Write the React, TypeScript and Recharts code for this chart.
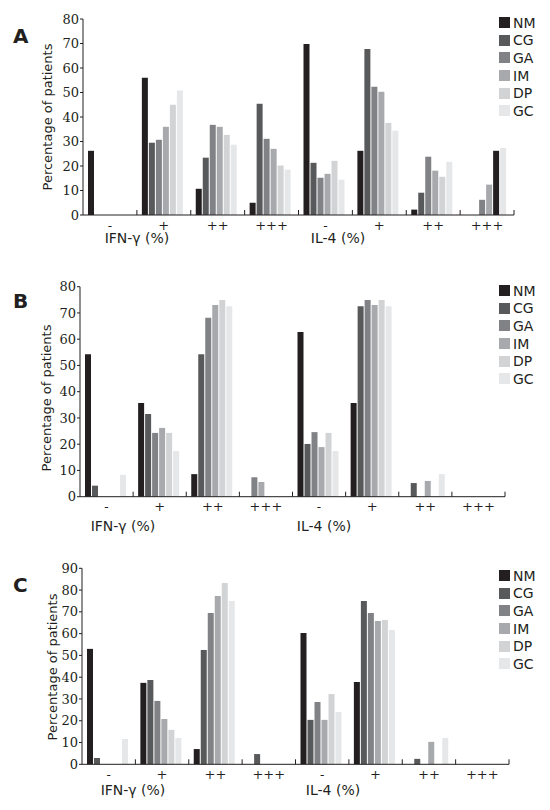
import { BarChart, Bar, XAxis, YAxis, Legend, Cell } from "recharts"

// x-axis categories (IFN-γ groups, then IL-4 groups)
const categories = ["-", "+", "++", "+++", "-", "+", "++", "+++"]
const groupTitles = ["IFN-γ (%)", "IL-4 (%)"]
const seriesNames = ["NM", "CG", "GA", "IM", "DP", "GC"]
const ticksAB = [0, 10, 20, 30, 40, 50, 60, 70, 80]
const ticksC = [0, 10, 20, 30, 40, 50, 60, 70, 80, 90]

// Panel A
const aNM = [26.2, 56, 10.7, 5, 69.8, 26.2, 2.2, 0]
const aCG = [0, 29.5, 23.4, 45.4, 21.3, 67.8, 9.1, 0]
const aGA = [0, 30.7, 36.8, 31.1, 15.2, 52.3, 23.8, 6.2]
const aIM = [0, 36, 36, 27, 16.8, 50.3, 18.1, 12.4]
const aDP = [0, 45, 32.7, 20.2, 22.1, 37.6, 15.6, 26.2]
const aGC = [0, 50.8, 28.7, 18.5, 14.4, 34.4, 21.7, 27.4]

// Panel B
const bNM = [54.3, 35.7, 8.6, 0, 62.7, 35.7, 0, 0]
const bCG = [4.2, 31.5, 54.3, 7.4, 20.1, 72.6, 5.2, 0]
const bGA = [0, 24.3, 68.2, 5.6, 24.6, 74.9, 0, 0]
const bIM = [0, 26.2, 73, 0, 18.9, 73, 6.0, 0]
const bDP = [0, 24.3, 74.9, 0, 24.3, 74.9, 0, 0]
const bGC = [8.3, 17.4, 72.6, 0, 17.4, 72.6, 8.6, 0]

// Panel C
const cNM = [53, 37.4, 7.0, 0, 60.3, 37.8, 0, 0]
const cCG = [2.9, 38.7, 52.5, 4.7, 20.4, 75.0, 2.5, 0]
const cGA = [0, 29.1, 69.5, 0, 28.6, 69.5, 0, 0]
const cIM = [0, 20.8, 77.3, 0, 20.4, 65.8, 10.3, 0]
const cDP = [0, 15.8, 83.3, 0, 32.3, 66.3, 0, 0]
const cGC = [11.6, 12.1, 75.0, 0, 24.0, 61.7, 12.1, 0]

const colors: Record<string, string> = {
  NM: "#231f20",
  CG: "#58595b",
  GA: "#808285",
  IM: "#a7a9ac",
  DP: "#d1d3d4",
  GC: "#e6e7e8",
}

// a few bars in the original are drawn in another series' shade
const fillOverrides = [
  { panel: "A", series: "DP", index: 7, color: colors.NM },
  { panel: "B", series: "CG", index: 3, color: colors.GA },
  { panel: "B", series: "GA", index: 3, color: colors.IM },
]

const buildRows = (cols: number[][]) =>
  categories.map((_, i) => {
    const row: Record<string, any> = { id: `c${i}` }
    seriesNames.forEach((s, k) => (row[s] = cols[k][i]))
    return row
  })

const W = 550
const H = 270
const INK = "#231f20"

const panels = [
  {
    key: "A", top: 0, rows: buildRows([aNM, aCG, aGA, aIM, aDP, aGC]), ticks: ticksAB, max: 80,
    plotLeft: 83, plotRight: 514, plotTop: 19, plotBottom: 215,
    letterY: 43, yLabel: [47, 117], titleX: [137, 338], titleY: 243, legendTop: 14,
  },
  {
    key: "B", top: 260, rows: buildRows([bNM, bCG, bGA, bIM, bDP, bGC]), ticks: ticksAB, max: 80,
    plotLeft: 80, plotRight: 505, plotTop: 26.7, plotBottom: 236.7,
    letterY: 48, yLabel: [46.5, 138], titleX: [123, 324], titleY: 271, legendTop: 22,
  },
  {
    key: "C", top: 530, rows: buildRows([cNM, cCG, cGA, cIM, cDP, cGC]), ticks: ticksC, max: 90,
    plotLeft: 82, plotRight: 509, plotTop: 38.3, plotBottom: 234.3,
    letterY: 62, yLabel: [52, 137], titleX: [133, 333], titleY: 265, legendTop: 37,
  },
]

function CategoryTick(props: any) {
  const { x, y, payload, band } = props
  const i = payload.index
  return (
    <g>
      <text x={x} y={y + 10} textAnchor="middle" dominantBaseline="central"
        fontFamily="DejaVu Serif" fontSize={13} fill={INK}>
        {categories[i]}
      </text>
      {i > 0 && <line x1={x - band / 2} x2={x - band / 2} y1={y} y2={y - 5} stroke={INK} />}
      {i === categories.length - 1 && <line x1={x + band / 2} x2={x + band / 2} y1={y} y2={y - 5} stroke={INK} />}
    </g>
  )
}

// keep the legend in series order
const renderLegend = ({ payload }: any) => {
  const items = [...(payload || [])].sort(
    (a: any, b: any) => seriesNames.indexOf(a.value) - seriesNames.indexOf(b.value)
  )
  return (
    <div style={{ fontFamily: "DejaVu Sans", fontSize: 14, color: INK }}>
      {items.map((e: any) => (
        <div key={e.value} style={{ display: "flex", alignItems: "center", height: 17.6 }}>
          <span style={{ display: "inline-block", width: 11, height: 11, background: e.color, marginRight: 3 }} />
          <span>{e.value}</span>
        </div>
      ))}
    </div>
  )
}

function Panel({ p }: { p: (typeof panels)[number] }) {
  const yAxisWidth = 40
  const xAxisHeight = 30
  const band = (p.plotRight - p.plotLeft) / categories.length
  return (
    <div style={{ position: "absolute", left: 0, top: p.top, width: W, height: H + 20 }}>
      <BarChart
        width={W}
        height={H}
        data={p.rows}
        margin={{ top: p.plotTop, left: p.plotLeft - yAxisWidth, right: W - p.plotRight, bottom: H - p.plotBottom - xAxisHeight }}
        barCategoryGap={5}
        barGap={1}
      >
        <XAxis
          dataKey="id"
          height={xAxisHeight}
          axisLine={{ stroke: INK }}
          tickLine={false}
          tickSize={0}
          tickMargin={0}
          interval={0}
          tick={(t: any) => <CategoryTick {...t} band={band} />}
        />
        <YAxis
          width={yAxisWidth}
          domain={[0, p.max]}
          ticks={p.ticks}
          interval={0}
          axisLine={{ stroke: INK }}
          tickLine={{ stroke: INK }}
          tickSize={3}
          tickMargin={1}
          tick={{ fontFamily: "DejaVu Serif", fontSize: 13, fill: INK }}
        />
        <Legend
          layout="vertical"
          align="center"
          verticalAlign="middle"
          wrapperStyle={{ left: 499, top: p.legendTop, width: 50, height: "auto" }}
          content={renderLegend}
        />
        {seriesNames.map((s) => (
          <Bar key={s} dataKey={s} name={s} fill={colors[s]} isAnimationActive={false}>
            {p.rows.map((_, i) => {
              const o = fillOverrides.find((f) => f.panel === p.key && f.series === s && f.index === i)
              return <Cell key={i} fill={o ? o.color : colors[s]} />
            })}
          </Bar>
        ))}
      </BarChart>
      <svg width={W} height={H + 20} style={{ position: "absolute", left: 0, top: 0, pointerEvents: "none" }}>
        <text x={13} y={p.letterY} fontFamily="DejaVu Sans" fontWeight="bold" fontSize={20} fill={INK}>
          {p.key}
        </text>
        <text
          x={p.yLabel[0]}
          y={p.yLabel[1]}
          transform={`rotate(-90 ${p.yLabel[0]} ${p.yLabel[1]})`}
          textAnchor="middle"
          dominantBaseline="central"
          fontFamily="DejaVu Sans"
          fontSize={13}
          fill={INK}
        >
          Percentage of patients
        </text>
        {groupTitles.map((t, i) => (
          <text key={t} x={p.titleX[i]} y={p.titleY} textAnchor="middle"
            fontFamily="DejaVu Sans" fontSize={14} fill={INK}>
            {t}
          </text>
        ))}
      </svg>
    </div>
  )
}

export default function App() {
  return (
    <div style={{ position: "absolute", left: 0, top: 0, width: W, height: 810, background: "#fff" }}>
      {panels.map((p) => (
        <Panel key={p.key} p={p} />
      ))}
    </div>
  )
}
